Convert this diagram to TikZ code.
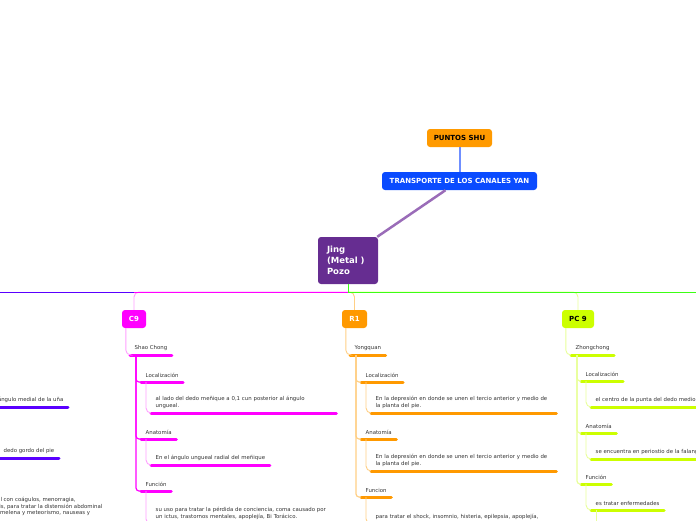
\documentclass[tikz,border=0pt]{standalone}
\usepackage{fontspec}
\setmainfont{DejaVu Sans}

\definecolor{shuorange}{HTML}{FF9A00}
\definecolor{yanblue}{HTML}{0A4BFF}
\definecolor{jingpurple}{HTML}{662D91}
\definecolor{linkpurple}{HTML}{9A6CB8}
\definecolor{linkblue}{HTML}{6F8FFF}
\definecolor{hubgreen}{HTML}{3CFF14}
\definecolor{leftviolet}{HTML}{5A00FF}
\definecolor{cmag}{HTML}{FF00FF}
\definecolor{cmagsoft}{HTML}{FFA0FF}
\definecolor{rorange}{HTML}{FF9900}
\definecolor{rorangesoft}{HTML}{FFCF85}
\definecolor{pclime}{HTML}{CCFF00}
\definecolor{pclimesoft}{HTML}{E8FF9A}
\definecolor{txtgray}{HTML}{333333}

\tikzset{
  box/.style={rounded corners=3pt, inner sep=0pt, align=center,
    font=\bfseries\fontsize{7}{8}\selectfont},
  item/.style={anchor=south west, inner xsep=4.5pt, inner ysep=4pt, text=txtgray,
    align=left, font=\fontsize{5.4}{6.7}\selectfont,
    append after command={(\tikzlastnode.south west)
      edge[draw=#1, line width=3pt, line cap=round] (\tikzlastnode.south east)}},
  soft/.style={draw=#1, line width=0.9pt, rounded corners=5pt},
  trunk/.style={draw=#1, line width=1.2pt, rounded corners=3pt}
}

\begin{document}
\begin{tikzpicture}[x=1pt,y=-1pt]
  \useasboundingbox (0,0) rectangle (696,520);
  \clip (0,0) rectangle (696,520);

  % top of the map
  \node[box, fill=shuorange, text=black, minimum width=65pt, minimum height=18pt] (shu) at (459.5,138) {PUNTOS SHU};
  \node[box, fill=yanblue, text=white, minimum width=155pt, minimum height=18pt] (yan) at (459.5,181) {TRANSPORTE DE LOS CANALES YAN};
  \node[box, fill=jingpurple, text=white, font=\bfseries\fontsize{8.5}{11}\selectfont,
    minimum width=60pt, minimum height=47pt, text width=42pt, align=left, inner xsep=9pt] (jing) at (348,260.5) {Jing\\(Metal )\\Pozo};
  \draw[linkblue, line width=2pt] (shu.south) -- (yan.north);
  \draw[linkpurple, line width=2.5pt] ([xshift=-14pt]yan.south) -- ([xshift=-1pt]jing.north east);

  % main points
  \node[box, fill=cmag, text=white, minimum width=24pt, minimum height=18pt] (c9) at (134,319) {C9};
  \node[box, fill=rorange, text=white, minimum width=25pt, minimum height=18pt] (r1) at (354.5,319) {R1};
  \node[box, fill=pclime, text=black, minimum width=32pt, minimum height=18pt] (pc9) at (578,319) {PC 9};

  \coordinate (hub) at (348,292);
  \coordinate (leftend) at (-5,292);
  \coordinate (rightend) at (701,292);
  \draw[soft=cmagsoft] (hub) -| (c9.north);
  \draw[soft=rorangesoft] (hub) -| (r1.north);
  \draw[soft=pclimesoft] (hub) -| (pc9.north);
  \draw[hubgreen, line width=1pt] (jing.south) |- (rightend);
  \draw[cmag, line width=1pt] (hub) -- (hub -| c9.north);
  \draw[leftviolet, line width=1pt] (hub -| c9.north) -- (leftend);

  % C9
  \node[item=cmag] (shao) at (130,355) {Shao Chong};
  \node[item=cmag] (c9loc) at (141,382) {Localización};
  \node[item=cmag, text width=176pt] (c9locT) at (151,413) {al lado del dedo meñique a 0,1 cun posterior al ángulo\\ungueal.};
  \node[item=cmag] (c9anat) at (141,439) {Anatomía};
  \node[item=cmag] (c9anatT) at (151,465) {En el ángulo ungueal radial del meñique};
  \node[item=cmag] (c9fun) at (141,491) {Función};
  \node[item=cmag, text width=176pt] (c9funT) at (151,524) {su uso para tratar la pérdida de conciencia, coma causado por\\un ictus, trastornos mentales, apoplejía, Bi Torácico.};

  % R1
  \node[item=rorange] (yong) at (350,355) {Yongquan};
  \node[item=rorange] (r1loc) at (361,382) {Localización};
  \node[item=rorange, text width=176pt] (r1locT) at (371,413) {En la depresión en donde se unen el tercio anterior y medio de\\la planta del pie.};
  \node[item=rorange] (r1anat) at (361,439) {Anatomía};
  \node[item=rorange, text width=176pt] (r1anatT) at (371,471) {En la depresión en donde se unen el tercio anterior y medio de\\la planta del pie.};
  \node[item=rorange] (r1fun) at (361,497) {Funcion};
  \node[item=rorange, text width=176pt, anchor=north west] (r1funT) at (371,510) {para tratar el shock, insomnio, histeria, epilepsia, apoplejía,};

  % PC 9
  \node[item=pclime] (zhong) at (571,355) {Zhongchong};
  \node[item=pclime] (pcloc) at (581,381) {Localización};
  \node[item=pclime] (pclocT) at (591,407) {el centro de la punta del dedo medio};
  \node[item=pclime] (pcanat) at (581,433) {Anatomía};
  \node[item=pclime] (pcanatT) at (591,459) {se encuentra en periostio de la falange};
  \node[item=pclime] (pcfun) at (581,484) {Función};
  \node[item=pclime] (pcfunT) at (591,510) {es tratar enfermedades};
  \coordinate (pcdeep) at (596,530);

  % branch cut at the left edge
  \node[item=leftviolet, anchor=south east] (spLoc) at (68,407) {ángulo medial de la uña};
  \node[item=leftviolet, anchor=south east] (spAnat) at (59,458) {dedo gordo del pie};
  \node[text=txtgray, font=\fontsize{5.4}{6.7}\selectfont, align=left, anchor=north west, inner sep=0pt] (spFunT) at (-3,497)
    {al con coágulos, menorragia,\\tis, para tratar la distensión abdominal\\\hspace{3pt}melena y meteorismo, nauseas y};

  % connectors
  \foreach \p/\k/\s in {c9/shao/cmagsoft, r1/yong/rorangesoft, pc9/zhong/pclimesoft}
    \draw[soft=\s] ([xshift=4pt]\p.south west) |- (\k.south west);
  \foreach \k/\a/\c in {shao/c9loc/cmag, shao/c9anat/cmag, shao/c9fun/cmag,
      yong/r1loc/rorangesoft, yong/r1anat/rorangesoft, yong/r1fun/rorangesoft,
      zhong/pcloc/pclimesoft, zhong/pcanat/pclimesoft, zhong/pcfun/pclimesoft}
    \draw[trunk=\c] ([xshift=6pt]\k.south west) |- (\a.south west);
  \foreach \a/\g/\s in {c9loc/c9locT/cmagsoft, c9anat/c9anatT/cmagsoft, c9fun/c9funT/cmagsoft,
      r1loc/r1locT/rorangesoft, r1anat/r1anatT/rorangesoft, r1fun/r1funT/rorangesoft,
      pcloc/pclocT/pclimesoft, pcanat/pcanatT/pclimesoft, pcfun/pcfunT/pclimesoft}
    \draw[soft=\s] ([xshift=5pt]\a.south west) |- (\g.south west);
  \draw[soft=pclimesoft] ([xshift=5pt]pcfunT.south west) -- (pcdeep);
\end{tikzpicture}
\end{document}
